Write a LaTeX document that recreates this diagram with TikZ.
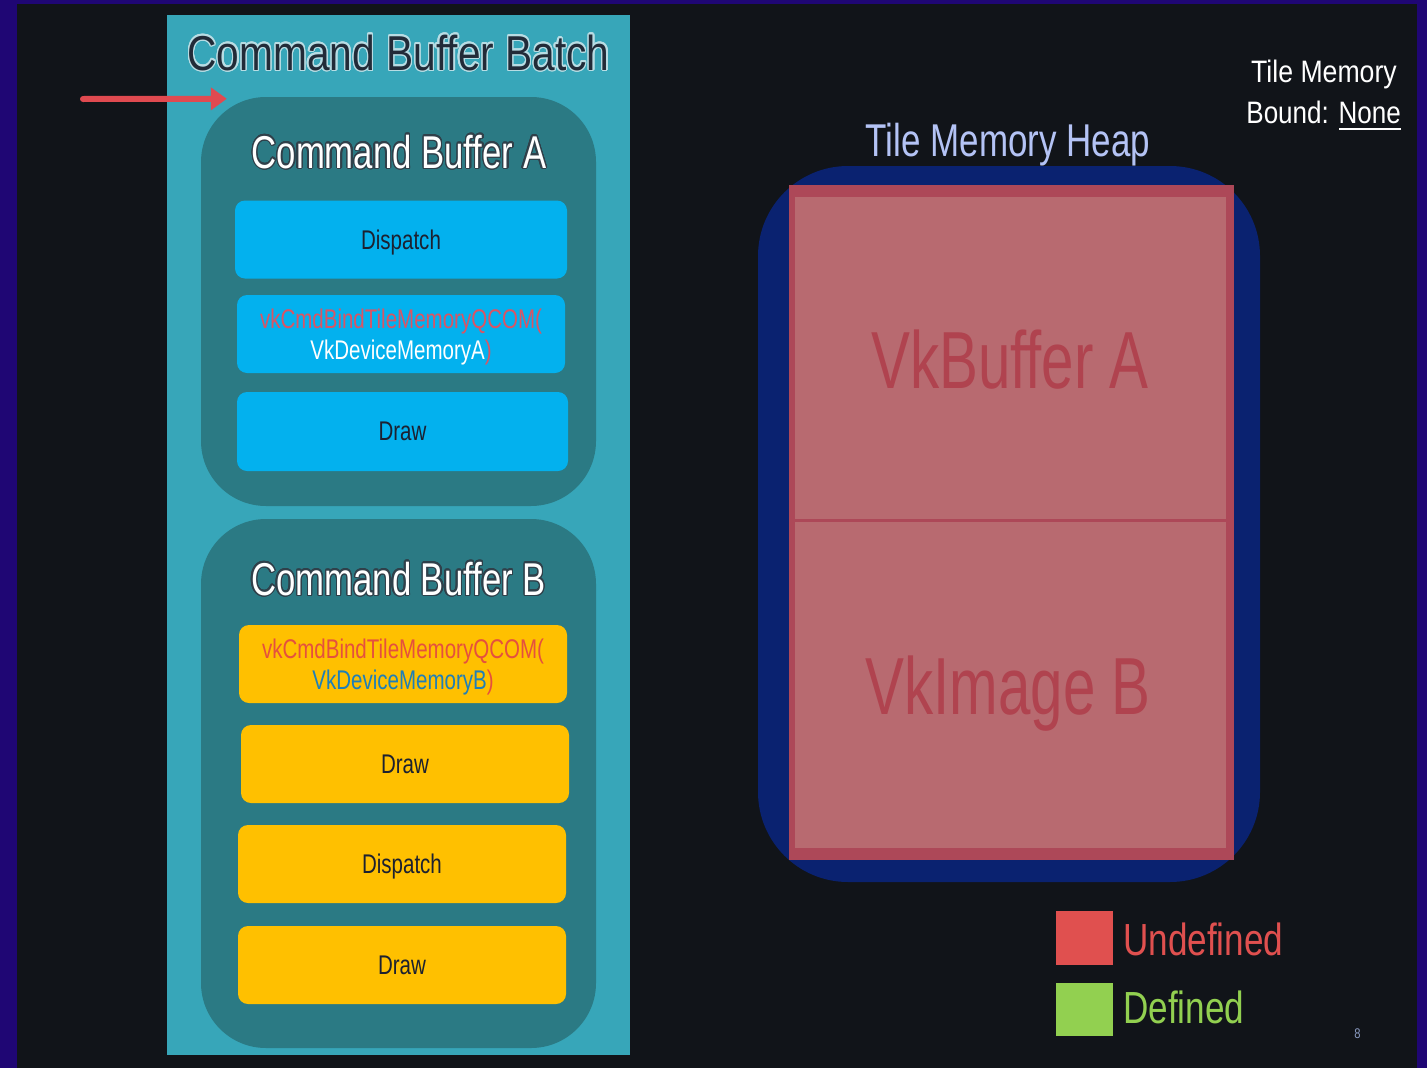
\documentclass[tikz,border=0pt]{standalone}
\usepackage{fontspec}
\setmainfont{Liberation Sans}
\usepackage{graphicx}
\usepackage{contour}
\usetikzlibrary{arrows.meta}

\contourlength{1.3pt}
\contournumber{24}

% horizontally condensed text
\newcommand{\narrow}[2]{\scalebox{#1}[1]{#2}}

\definecolor{frameC}{HTML}{1F0674}
\definecolor{bgC}{HTML}{111419}
\definecolor{batchC}{HTML}{37A6B9}
\definecolor{cbC}{HTML}{2B7A84}
\definecolor{cyanC}{HTML}{03B1EE}
\definecolor{yellowC}{HTML}{FFC000}
\definecolor{arrowC}{HTML}{E04A50}
\definecolor{heapC}{HTML}{0A2270}
\definecolor{memEdgeC}{HTML}{AD4858}
\definecolor{memFillC}{HTML}{B86A70}
\definecolor{memTextC}{HTML}{B0434F}
\definecolor{heapTextC}{HTML}{B4C3F5}
\definecolor{undefC}{HTML}{E0504F}
\definecolor{defC}{HTML}{92D050}
\definecolor{darkTextC}{HTML}{1C2130}
\definecolor{batchTitleC}{HTML}{222B38}
\definecolor{batchOutC}{HTML}{B8DDE4}
\definecolor{cbOutC}{HTML}{30404A}
\definecolor{bindRedC}{HTML}{D95565}
\definecolor{bindOrangeC}{HTML}{E5503E}
\definecolor{bindBlueC}{HTML}{1F7FB8}
\definecolor{pageNumC}{HTML}{8A9AC0}

\begin{document}
\begin{tikzpicture}[x=1pt, y=-1pt,
  batchpanel/.style={rectangle, inner sep=0pt, fill=batchC,
    minimum width=463pt, minimum height=1040pt},
  cbpanel/.style={rectangle, inner sep=0pt, fill=cbC, rounded corners=65pt,
    minimum width=395pt},
  cmdbox/.style={rectangle, inner sep=0pt, rounded corners=10pt,
    minimum height=78pt, align=center, text=darkTextC, text depth=0pt,
    font=\fontsize{27}{31}\selectfont},
  cyanbox/.style={cmdbox, fill=cyanC},
  yellowbox/.style={cmdbox, fill=yellowC},
  cbtitle/.style={anchor=base, text=white, font=\fontsize{46}{52}\selectfont},
  memrect/.style={rectangle, inner sep=0pt, fill=memFillC, minimum width=431pt},
  memlabel/.style={anchor=base, text=memTextC, font=\fontsize{81}{90}\selectfont},
  legendsq/.style={rectangle, inner sep=0pt, minimum width=57pt, minimum height=54pt},
  legendtext/.style={anchor=base west, inner sep=0pt, font=\fontsize{45}{50}\selectfont},
  infotext/.style={anchor=base east, inner sep=0pt, text=white,
    font=\fontsize{31}{36}\selectfont},
  pointer/.style={arrowC, line width=6pt, line cap=round,
    -{Triangle[length=16pt, width=22pt, line cap=butt]}}
]
\useasboundingbox (0,0) rectangle (1427,1068);
% frame and slide background
\fill[frameC] (0,0) rectangle (1427,1068);
\fill[bgC] (17,4) rectangle (1417,1068);

% ---- command buffer batch ----
\node[batchpanel] (batch) at (398.5,535) {};
\node[anchor=base, text=batchTitleC, font=\fontsize{49}{55}\selectfont]
  (batchtitle) at (398.5,70)
  {\contour{batchOutC}{\narrow{0.83}{Command Buffer Batch}}};

% command buffer A
\node[cbpanel, minimum height=409pt] (cbA) at (398.5,301.5) {};
\node[cbtitle] (cbAtitle) at (399,168)
  {\contour{cbOutC}{\narrow{0.755}{Command Buffer A}}};
\node[cyanbox, minimum width=332pt] (dispA) at (401,239.5)
  {\narrow{0.76}{Dispatch}};
\node[cyanbox, minimum width=328pt] (bindA) at (401,334)
  {\narrow{0.76}{\textcolor{bindRedC}{vkCmdBindTileMemoryQCOM(}}\\
   \narrow{0.76}{\textcolor{white}{VkDeviceMemoryA}\textcolor{bindRedC}{)}}};
\node[cyanbox, minimum width=331pt, minimum height=79pt] (drawA) at (402.5,431.5)
  {\narrow{0.76}{Draw}};

% command buffer B
\node[cbpanel, minimum height=529pt] (cbB) at (398.5,783.5) {};
\node[cbtitle] (cbBtitle) at (398.5,595)
  {\contour{cbOutC}{\narrow{0.755}{Command Buffer B}}};
\node[yellowbox, minimum width=328pt] (bindB) at (403,664)
  {\narrow{0.76}{\textcolor{bindOrangeC}{vkCmdBindTileMemoryQCOM(}}\\
   \narrow{0.76}{\textcolor{bindBlueC}{VkDeviceMemoryB}\textcolor{bindOrangeC}{)}}};
\node[yellowbox, minimum width=328pt] (drawB1) at (405,764)
  {\narrow{0.76}{Draw}};
\node[yellowbox, minimum width=328pt] (dispB) at (402,864)
  {\narrow{0.76}{Dispatch}};
\node[yellowbox, minimum width=328pt] (drawB2) at (402,965)
  {\narrow{0.76}{Draw}};

% current position pointer
\coordinate (pointerstart) at (83,99);
\draw[pointer] (pointerstart) -- ([xshift=26pt, yshift=-2pt]cbA.north west);

% ---- tile memory heap ----
\node[anchor=base, text=heapTextC, font=\fontsize{46}{52}\selectfont]
  (heaptitle) at (1008,156) {\narrow{0.76}{Tile Memory Heap}};
\node[rectangle, inner sep=0pt, fill=heapC, rounded corners=90pt,
  minimum width=502pt, minimum height=716pt] (heap) at (1009,524) {};
\node[rectangle, inner sep=0pt, fill=memEdgeC,
  minimum width=445pt, minimum height=675pt] (mem) at (1011.5,522.5) {};
\node[memrect, minimum height=322pt] (bufA) at (1010.5,358) {};
\node[memrect, minimum height=326pt] (imgB) at (1010.5,685) {};
\node[memlabel] (bufAlabel) at (1010,388) {\narrow{0.72}{VkBuffer A}};
\node[memlabel] (imgBlabel) at (1008,714) {\narrow{0.72}{VkImage B}};

% ---- bound state ----
\node[infotext] (boundtop) at (1397,82) {\narrow{0.86}{Tile Memory}};
\node[infotext] (boundbot) at (1401,123) {\narrow{0.84}{Bound: None}};
\draw[white, line width=2pt] ([yshift=-6pt]boundbot.base east)
  -- ++(-62,0);

% ---- legend ----
\node[legendsq, fill=undefC] (undefsq) at (1084.5,938) {};
\node[legendsq, fill=defC, minimum height=53pt] (defsq) at (1084.5,1009.5) {};
\node[legendtext, text=undefC] (undeftext) at (1123,955) {\narrow{0.78}{Undefined}};
\node[legendtext, text=defC] (deftext) at (1123,1023) {\narrow{0.78}{Defined}};

% page number
\node[anchor=base, text=pageNumC, font=\fontsize{14}{16}\selectfont]
  (pagenum) at (1357.5,1038) {\narrow{0.8}{8}};
\end{tikzpicture}
\end{document}
